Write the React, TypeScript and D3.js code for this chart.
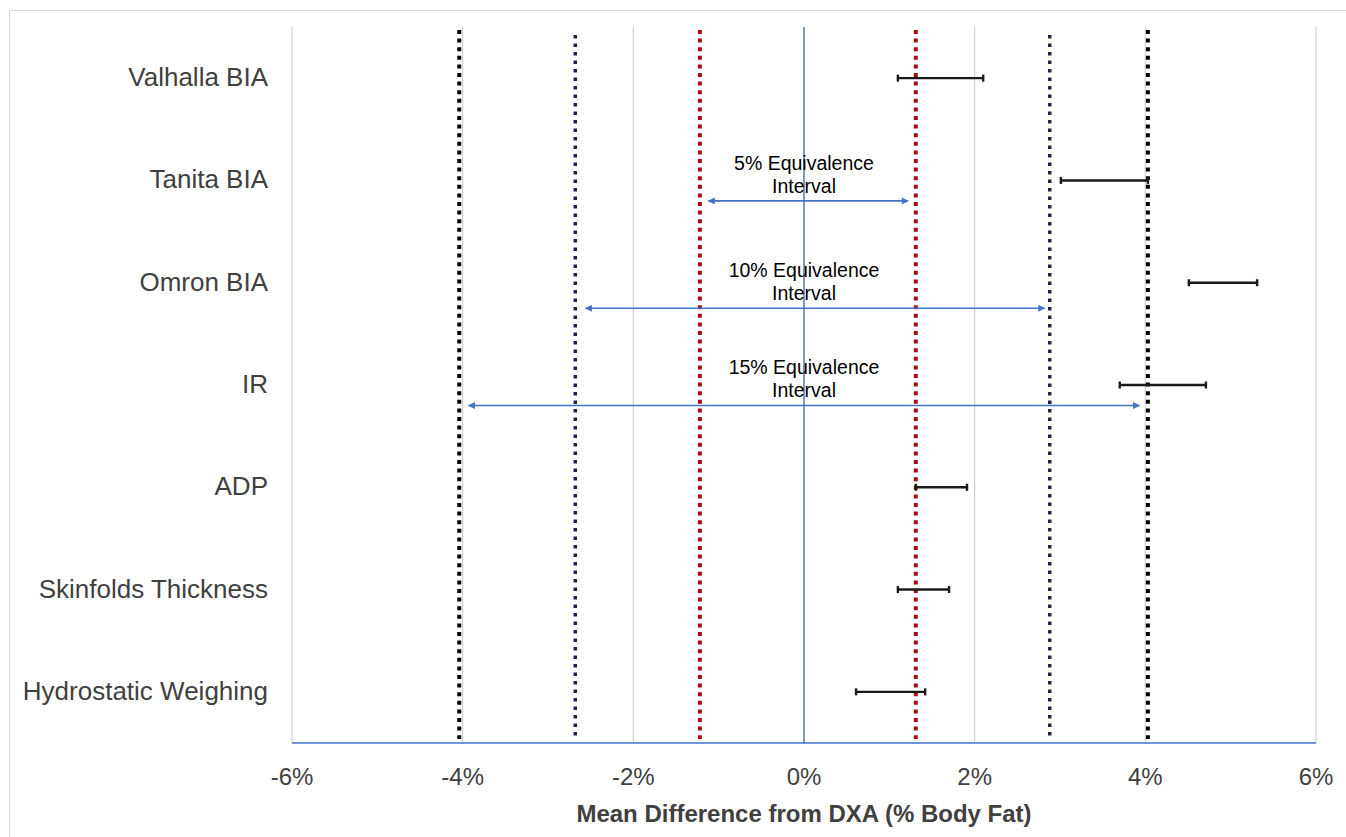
import * as d3 from "d3";

const categories = [
  "Valhalla BIA",
  "Tanita BIA",
  "Omron BIA",
  "IR",
  "ADP",
  "Skinfolds Thickness",
  "Hydrostatic Weighing",
];
const lowerBounds = [1.1, 3.01, 4.51, 3.7, 1.31, 1.1, 0.61];
const upperBounds = [2.1, 4.03, 5.31, 4.71, 1.91, 1.7, 1.42];

const xTicks = [-6, -4, -2, 0, 2, 4, 6];

// equivalence bounds (% body fat)
const boundLevels = ["5%", "10%", "15%"];
const boundLow = [-1.22, -2.68, -4.04];
const boundHigh = [1.31, 2.88, 4.03];
const boundColors = ["#a50f0f", "#1b2550", "#000000"];

// arrows under the labels
const arrowLow = [-1.12, -2.56, -3.93];
const arrowHigh = [1.22, 2.82, 3.93];
const arrowRow = [1.2, 2.25, 3.2]; // vertical position in category units

const W = 1346;
const H = 837;
const left = 292;
const right = 1316;
const top = 27;
const bottom = 743;

export default function App() {
  const x = d3.scaleLinear().domain([-6, 6]).range([left, right]);
  const y = d3.scaleBand<string>().domain(categories).range([top, bottom]);
  const yc = (c: string) => (y(c) ?? 0) + y.bandwidth() / 2;
  const yRow = d3
    .scaleLinear()
    .domain([0, categories.length - 1])
    .range([yc(categories[0]), yc(categories[categories.length - 1])]);

  const font = "'Liberation Sans', Arial, sans-serif";
  const blue = "#4472c4";
  const fmt = (t: number) => d3.format(".0%")(t / 100).replace("\u2212", "-");

  return (
    <svg
      width={W}
      height={H}
      style={{ position: "absolute", left: 0, top: 0, background: "#fff" }}
      fontFamily={font}
    >
      <defs>
        <marker
          id="ah"
          viewBox="0 0 10 10"
          refX="9"
          refY="5"
          markerWidth="9"
          markerHeight="7"
          markerUnits="userSpaceOnUse"
          orient="auto-start-reverse"
        >
          <path d="M0,0 L10,5 L0,10 z" fill={blue} />
        </marker>
      </defs>
      <rect x={9.5} y={10.5} width={W - 9} height={H} fill="none" stroke="#d9d9d9" />

      {/* gridlines */}
      {xTicks
        .filter((t) => t !== 0)
        .map((t) => (
          <line key={t} x1={x(t)} x2={x(t)} y1={top} y2={bottom} stroke="#d0d0d0" strokeWidth={1.2} />
        ))}
      <line x1={x(0)} x2={x(0)} y1={top} y2={bottom} stroke="#4a6fae" strokeWidth={1.4} />

      {/* equivalence bounds */}
      {boundLevels.map((b, i) => (
        <g key={b}>
          {[boundLow[i], boundHigh[i]].map((v, j) => (
            <line
              key={j}
              x1={x(v)}
              x2={x(v)}
              y1={i === 1 ? 35 : 30}
              y2={bottom - 4}
              stroke={boundColors[i]}
              strokeWidth={i === 1 ? 3.5 : 4}
              strokeDasharray={i === 1 ? "3.5 5" : "4 4.6"}
            />
          ))}
        </g>
      ))}

      {/* arrows & labels */}
      {boundLevels.map((b, i) => {
        const yy = yRow(arrowRow[i]);
        const cx = x(0);
        return (
          <g key={b}>
            <line
              x1={x(arrowLow[i])}
              x2={x(arrowHigh[i])}
              y1={yy}
              y2={yy}
              stroke={blue}
              strokeWidth={1.6}
              markerStart="url(#ah)"
              markerEnd="url(#ah)"
            />
            <text x={cx} y={yy - 31} textAnchor="middle" fontSize={19.5} fill="#000">
              {b} Equivalence
            </text>
            <text x={cx} y={yy - 8} textAnchor="middle" fontSize={19.5} fill="#000">
              Interval
            </text>
          </g>
        );
      })}

      {/* error bars */}
      {categories.map((c, i) => {
        const yy = yc(c);
        return (
          <g key={c} stroke="#1a1a1a" strokeWidth={2.4}>
            <line x1={x(lowerBounds[i])} x2={x(upperBounds[i])} y1={yy} y2={yy} />
            <line x1={x(lowerBounds[i])} x2={x(lowerBounds[i])} y1={yy - 3.5} y2={yy + 3.5} />
            <line x1={x(upperBounds[i])} x2={x(upperBounds[i])} y1={yy - 3.5} y2={yy + 3.5} />
          </g>
        );
      })}

      {/* x axis */}
      <line x1={left} x2={right} y1={bottom} y2={bottom} stroke={blue} strokeWidth={1.5} />
      {xTicks.map((t) => (
        <text key={t} x={x(t)} y={785} textAnchor="middle" fontSize={24} fill="#404040">
          {fmt(t)}
        </text>
      ))}
      <text x={x(0)} y={822} textAnchor="middle" fontSize={24} fontWeight="bold" fill="#404040">
        Mean Difference from DXA (% Body Fat)
      </text>

      {/* categories */}
      {categories.map((c) => (
        <text key={c} x={268} y={yc(c) + 8} textAnchor="end" fontSize={26} fill="#404040">
          {c}
        </text>
      ))}
    </svg>
  );
}
